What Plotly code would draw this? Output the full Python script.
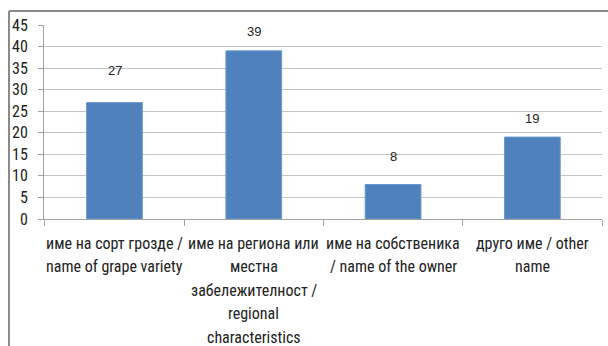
import plotly.graph_objects as go

categories = ["c1", "c2", "c3", "c4"]
category_lines = [
    ["име на сорт грозде /", "name of grape variety"],
    ["име на региона или", "местна", "забележителност /", "regional", "characteristics"],
    ["име на собственика", "/ name of the owner"],
    ["друго име / other", "name"],
]
values = [27, 39, 8, 19]
label_yshift = [32, 19, 28, 19]

FONT = "Liberation Sans Narrow, Arial Narrow, Roboto Condensed, Arial, sans-serif"

fig = go.Figure()
fig.add_trace(go.Bar(
    x=categories, y=values,
    marker=dict(color="#4F81BD", line=dict(color="#6a96cc", width=1)),
    hoverinfo="skip",
))

ann = []
for c, v, s in zip(categories, values, label_yshift):
    ann.append(dict(x=c, y=v, xref="x", yref="y", text=str(v), showarrow=False,
                    yshift=s, font=dict(family="Liberation Sans, Arial", size=13, color="#222"),
                    yanchor="middle"))
for c, lines in zip(categories, category_lines):
    for i, line in enumerate(lines):
        ann.append(dict(x=c, y=0, xref="x", yref="y", text=line, showarrow=False,
                        yshift=-(24 + 23.5 * i), yanchor="middle",
                        font=dict(family=FONT, size=16, color="#222")))

fig.update_layout(
    width=608, height=346,
    margin=dict(l=44, r=6, t=25, b=127),
    paper_bgcolor="white", plot_bgcolor="white",
    bargap=0.6, showlegend=False,
    annotations=ann,
    shapes=[
        dict(type="line", xref="paper", yref="paper", x0=-35/558, x1=600/558,
             y0=1 + 14/194, y1=1 + 14/194, line=dict(color="#8a8a8a", width=2)),
        dict(type="line", xref="paper", yref="paper", x0=-35/558, x1=-35/558,
             y0=1 + 14/194, y1=-1, line=dict(color="#8a8a8a", width=2)),
    ],
)
fig.update_xaxes(
    type="category", showticklabels=False, tickson="boundaries",
    ticks="outside", ticklen=6, tickcolor="#a0a0a0",
    showline=True, linecolor="#a0a0a0", linewidth=1, showgrid=False,
)
fig.update_yaxes(
    range=[0, 45], dtick=5, tick0=0,
    ticks="outside", ticklen=5, tickcolor="#a0a0a0",
    showline=True, linecolor="#a0a0a0", linewidth=1,
    showgrid=True, gridcolor="#c4c4c4", gridwidth=1, zeroline=False,
    tickfont=dict(family=FONT, size=16, color="#222"),
    ticklabelstandoff=7,
)

fig.write_html("out.html")
